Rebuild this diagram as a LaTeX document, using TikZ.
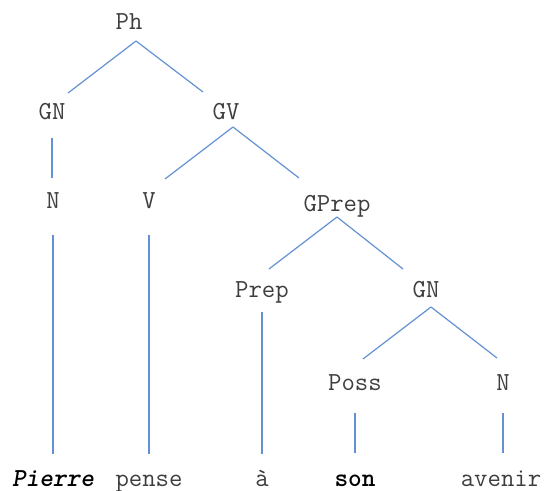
\documentclass[tikz,border=0pt]{standalone}
\usepackage{fontspec}
\usetikzlibrary{calc}
\definecolor{branchblue}{RGB}{100,145,210}
\definecolor{labelgray}{RGB}{62,62,62}
\tikzset{
    cat/.style={font=\ttfamily\fontsize{19.5}{22}\selectfont, text=labelgray,
        anchor=base, inner sep=0pt, text height=10.5pt, text depth=0pt},
    word/.style={cat},
    keyword/.style={cat, text=black},
    branch/.style={draw=branchblue, line width=0.9pt}
}
\begin{document}
\begin{tikzpicture}[x=0.75pt,y=-0.75pt]
\useasboundingbox (0,0) rectangle (544,491);
% categories
\node[cat] (ph) at (129,30) {Ph};
\node[cat] (gn1) at (52,120) {GN};
\node[cat] (gv) at (226,120) {GV};
\node[cat] (n1) at (53,209) {N};
\node[cat] (v) at (149,209) {V};
\node[cat] (gprep) at (337,212) {GPrep};
\node[cat] (prep) at (262,298) {Prep};
\node[cat] (gn2) at (426,298) {GN};
\node[cat] (poss) at (355,391) {Poss};
\node[cat] (n2) at (503,391) {N};
% words
\node[keyword] (pierre) at (53,487) {\textbf{\textit{Pierre}}};
\node[word] (pense) at (149,487) {pense};
\node[word] (a) at (262,487) {à};
\node[keyword] (son) at (355,487) {\textbf{son}};
\node[word] (avenir) at (501,487) {avenir};
% forks and branch ends
\coordinate (ph-f) at (136,41);
\coordinate (gn1-t) at (68,93);
\coordinate (gv-t) at (203,92);
\coordinate (gv-f) at (233,127);
\coordinate (v-t) at (165,179);
\coordinate (gprep-t) at (299,178);
\coordinate (gprep-f) at (337,217);
\coordinate (prep-t) at (269,269);
\coordinate (gn2-t) at (403,269);
\coordinate (gn2-f) at (431,307);
\coordinate (poss-t) at (363,359);
\coordinate (n2-t) at (497,358);
\foreach \a/\b in {ph-f/gn1-t, ph-f/gv-t, gv-f/v-t, gv-f/gprep-t,
    gprep-f/prep-t, gprep-f/gn2-t, gn2-f/poss-t, gn2-f/n2-t}
    \draw[branch] (\a) -- (\b);
% vertical lines
\foreach \a/\b/\s/\e in {gn1/n1/13.5/12.75, n1/pierre/19.5/14.25,
    v/pense/19.5/14.25, prep/a/10.5/14.25, poss/son/16.5/15, n2/avenir/16.5/15}
    \draw[branch, shorten <=\s pt, shorten >=\e pt] (\a.south) -- (\a.south |- \b.north);
\end{tikzpicture}
\end{document}
